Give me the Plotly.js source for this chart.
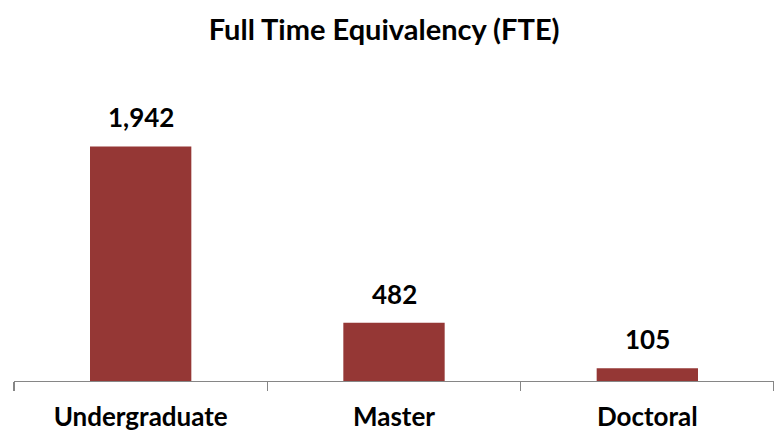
<!DOCTYPE html>
<html>
<head>
<meta charset="utf-8">
<script src="https://cdn.plot.ly/plotly-3.0.1.min.js"></script>
<style>html,body{margin:0;padding:0;background:#fff;}#chart{width:774px;height:432px;}</style>
</head>
<body>
<div id="chart"></div>
<script>
const categories = ["Undergraduate", "Master", "Doctoral"];
const fteValues = [1942, 482, 105];
const valueLabels = ["1,942", "482", "105"];

const FONT = "Lato, 'Open Sans', sans-serif";

const trace = {
  type: "bar",
  x: categories,
  y: fteValues,
  marker: {color: "#953735"},
  hoverinfo: "none"
};

const annotations = categories.map((c, i) => ({
  x: c, y: fteValues[i], xref: "x", yref: "y",
  text: valueLabels[i], showarrow: false,
  yanchor: "bottom", yshift: 11,
  font: {family: FONT, size: 26, color: "#000", weight: "bold"}
}));

const layout = {
  width: 774, height: 432,
  margin: {l: 14, r: 0, t: 79, b: 51},
  paper_bgcolor: "#fff", plot_bgcolor: "#fff",
  showlegend: false,
  bargap: 0.6,
  title: {text: "Full Time Equivalency (FTE)", x: 0.487, xref: "paper", xanchor: "center", y: 0.93, yanchor: "middle",
          font: {family: FONT, size: 29, color: "#000", weight: "bold"}},
  xaxis: {
    type: "category",
    showline: true, linecolor: "#868686", linewidth: 1.3,
    ticks: "outside", tickson: "boundaries", ticklen: 9, tickcolor: "#868686", tickwidth: 1.3,
    ticklabelstandoff: 12,
    tickfont: {family: FONT, size: 26, color: "#000", weight: "bold"},
    showgrid: false, zeroline: false
  },
  yaxis: {
    range: [0, 2500], visible: false, showgrid: false, zeroline: false
  },
  annotations: annotations
};

Plotly.newPlot("chart", [trace], layout, {staticPlot: true});
</script>
</body>
</html>
